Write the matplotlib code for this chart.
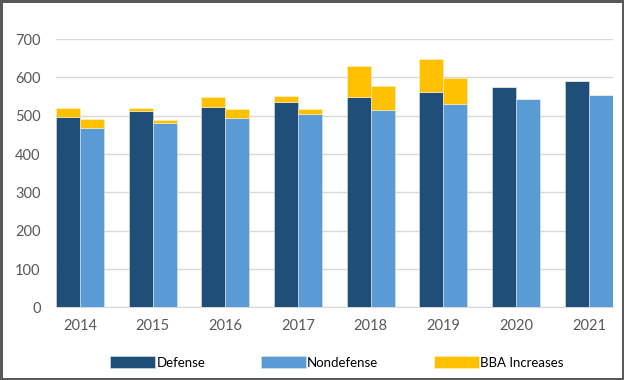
import numpy as np
import matplotlib
matplotlib.use('Agg')
import matplotlib.pyplot as plt

years = ['2014', '2015', '2016', '2017', '2018', '2019', '2020', '2021']
defense = [498, 512, 523, 536, 549, 562, 576, 590]
nondefense = [469, 481, 493, 504, 516, 530, 543, 555]
bba_def = [22, 9, 25, 15, 80, 85, 0, 0]
bba_nondef = [22, 9, 25, 15, 63, 68, 0, 0]

plt.rcParams['font.family'] = ['Lato', 'DejaVu Sans']

c_def = '#1F4E79'
c_non = '#5B9BD5'
c_bba = '#FFC000'
grey = '#595959'

fig = plt.figure(figsize=(6.24, 3.8), dpi=100)
fig.patch.set_edgecolor(grey)
fig.patch.set_linewidth(2.5)
ax = fig.add_axes([0.0897, 0.191, 0.8925, 0.706])

x = np.arange(len(years))
w = 0.33
ax.bar(x - w/2, defense, w, color=c_def, edgecolor='#DDE6F0', linewidth=0.4, label='Defense', zorder=3)
ax.bar(x + w/2, nondefense, w, color=c_non, edgecolor='#DDE6F0', linewidth=0.4, label='Nondefense', zorder=3)
ax.bar(x - w/2, bba_def, w, bottom=defense, color=c_bba, edgecolor='#FFF2CC', linewidth=0.4, label='BBA Increases', zorder=3)
ax.bar(x + w/2, bba_nondef, w, bottom=nondefense, color=c_bba, edgecolor='#FFF2CC', linewidth=0.4, zorder=3)

ax.set_xlim(-w, len(years) - 1 + w)
ax.set_ylim(0, 700)
ax.set_yticks(range(0, 701, 100))
ax.set_xticks(x)
ax.set_xticklabels(years)
ax.yaxis.grid(True, color='#D9D9D9', linewidth=1, zorder=0)
for s in ['top', 'right', 'left']:
    ax.spines[s].set_visible(False)
ax.spines['bottom'].set_color('#D9D9D9')
ax.spines['bottom'].set_zorder(0)
ax.tick_params(axis='both', length=0, colors=grey, labelsize=10.5)
ax.tick_params(axis='x', pad=8)
ax.tick_params(axis='y', pad=11)

fig.legend(loc='center', bbox_to_anchor=(0.54, 0.047), ncol=3, frameon=False,
           fontsize=9.5, handlelength=3.4, handleheight=1.1, handletextpad=0.1,
           columnspacing=4.2)

fig.savefig('out.png', dpi=100, edgecolor=fig.get_edgecolor())
